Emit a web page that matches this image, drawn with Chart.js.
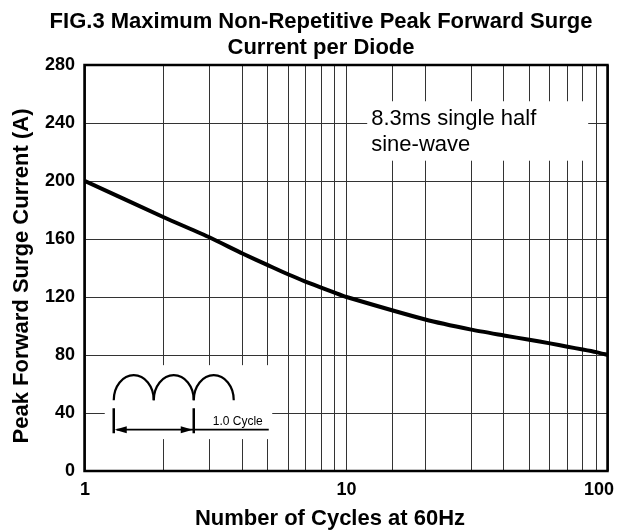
<!DOCTYPE html>
<html>
<head>
<meta charset="utf-8">
<script src="https://cdn.jsdelivr.net/npm/chart.js@4.4.1/dist/chart.umd.min.js"></script>
<style>
  html, body { margin: 0; padding: 0; background: #fff; }
  #chart { display: block; }
</style>
</head>
<body>
<canvas id="chart" width="617" height="532"></canvas>
<script>
const cycles = [1, 2, 3, 4, 5, 6, 7, 8, 9, 10, 20, 30, 40, 50, 60, 70, 80, 90, 100];
const surgeAmps = [200, 175, 161, 150, 142, 135.5, 130.5, 126.5, 123, 120, 104.5, 97.5, 93.5, 90.5, 88, 85.7, 83.8, 82, 80];
const xTickLabels = [1, 10, 100];
const yTickValues = [0, 40, 80, 120, 160, 200, 240, 280];

const titleLines = ['FIG.3 Maximum Non-Repetitive Peak Forward Surge', 'Current per Diode'];
const xTitle = 'Number of Cycles at 60Hz';
const yTitle = 'Peak Forward Surge Current (A)';
const noteLines = ['8.3ms single half', 'sine-wave'];
const cycleLabel = '1.0 Cycle';

const FONT = "'Liberation Sans', Arial, Helvetica, sans-serif";

function drawArrowHead(ctx, x, y, dir) {
  ctx.beginPath();
  ctx.moveTo(x, y);
  ctx.lineTo(x - dir * 12, y - 3.5);
  ctx.lineTo(x - dir * 12, y + 3.5);
  ctx.closePath();
  ctx.fill();
}

const decorations = {
  id: 'decorations',
  beforeDatasetsDraw(chart) {
    const { ctx } = chart;
    const x = chart.scales.x, y = chart.scales.y;
    ctx.save();
    ctx.fillStyle = '#fff';
    ctx.strokeStyle = '#000';

    // note box
    const nL = x.getPixelForValue(12), nR = x.getPixelForValue(84);
    const nT = y.getPixelForValue(255), nB = y.getPixelForValue(214);
    ctx.fillRect(nL, nT, nR - nL, nB - nT);
    ctx.fillStyle = '#000';
    ctx.font = '22px ' + FONT;
    ctx.textAlign = 'left';
    ctx.textBaseline = 'alphabetic';
    ctx.fillText(noteLines[0], nL + 4, nT + 24);
    ctx.fillText(noteLines[1], nL + 4, nT + 50);

    // half sine-wave sketch
    const L = x.getPixelForValue(1.19), R = x.getPixelForValue(5.2);
    const T = y.getPixelForValue(73), B = y.getPixelForValue(22);
    ctx.fillStyle = '#fff';
    ctx.fillRect(L, T, R - L, B - T);
    ctx.fillStyle = '#000';
    ctx.lineWidth = 2.2;
    for (let i = 0; i < 3; i++) {
      ctx.beginPath();
      ctx.ellipse(L + 29 + i * 40, T + 35, 20, 25, 0, Math.PI, 2 * Math.PI);
      ctx.stroke();
    }
    ctx.lineWidth = 2.5;
    ctx.beginPath();
    ctx.moveTo(L + 9, T + 43); ctx.lineTo(L + 9, T + 68);
    ctx.moveTo(L + 89, T + 43); ctx.lineTo(L + 89, T + 68);
    ctx.stroke();
    ctx.lineWidth = 1.6;
    ctx.beginPath();
    ctx.moveTo(L + 12, T + 64.5); ctx.lineTo(L + 164, T + 64.5);
    ctx.stroke();
    drawArrowHead(ctx, L + 10, T + 64.5, -1);
    drawArrowHead(ctx, L + 88, T + 64.5, 1);
    ctx.font = '12px ' + FONT;
    ctx.fillText(cycleLabel, L + 108, T + 60);
    ctx.restore();
  },
  afterDraw(chart) {
    const { ctx, chartArea: a } = chart;
    const x = chart.scales.x;
    ctx.save();
    ctx.strokeStyle = '#000';
    ctx.lineWidth = 2.5;
    ctx.strokeRect(a.left - 0.5, a.top, a.right - a.left, a.bottom - a.top);

    ctx.fillStyle = '#000';
    ctx.textBaseline = 'alphabetic';
    ctx.textAlign = 'center';

    // title
    ctx.font = 'bold 22px ' + FONT;
    ctx.fillText(titleLines[0], 321, 28);
    ctx.fillText(titleLines[1], 321, 54);

    // x tick labels
    ctx.font = 'bold 18px ' + FONT;
    xTickLabels.forEach(v => {
      const label = String(v);
      const w = ctx.measureText(label).width;
      const px = Math.min(x.getPixelForValue(v), chart.width - 3 - w / 2);
      ctx.fillText(label, px, a.bottom + 24);
    });

    // axis titles
    ctx.font = 'bold 22px ' + FONT;
    ctx.fillText(xTitle, 330, a.bottom + 54);
    ctx.translate(28, 276);
    ctx.rotate(-Math.PI / 2);
    ctx.fillText(yTitle, 0, 0);
    ctx.restore();
  }
};

new Chart(document.getElementById('chart'), {
  type: 'line',
  data: {
    datasets: [{
      data: cycles.map((c, i) => ({ x: c, y: surgeAmps[i] })),
      borderColor: '#000',
      borderWidth: 4,
      pointRadius: 0,
      tension: 0.2,
      fill: false
    }]
  },
  options: {
    responsive: false,
    animation: false,
    devicePixelRatio: 1,
    layout: { padding: { top: 65, right: 9, left: 0, bottom: 0 } },
    plugins: { legend: { display: false }, tooltip: { enabled: false } },
    scales: {
      x: {
        type: 'logarithmic',
        min: 1,
        max: 100,
        grid: { color: '#333', lineWidth: 1, drawTicks: false },
        border: { display: false },
        ticks: { display: false },
        afterFit: s => { s.height = 61; s.paddingLeft = 0; s.paddingRight = 0; }
      },
      y: {
        min: 0,
        max: 280,
        afterBuildTicks: s => { s.ticks = yTickValues.map(v => ({ value: v })); },
        grid: { color: '#333', lineWidth: 1, drawTicks: false },
        border: { display: false },
        ticks: { color: '#000', padding: 10, font: { family: FONT, size: 18, weight: 'bold' } },
        afterFit: s => { s.width = 85; }
      }
    }
  },
  plugins: [decorations]
});
</script>
</body>
</html>
